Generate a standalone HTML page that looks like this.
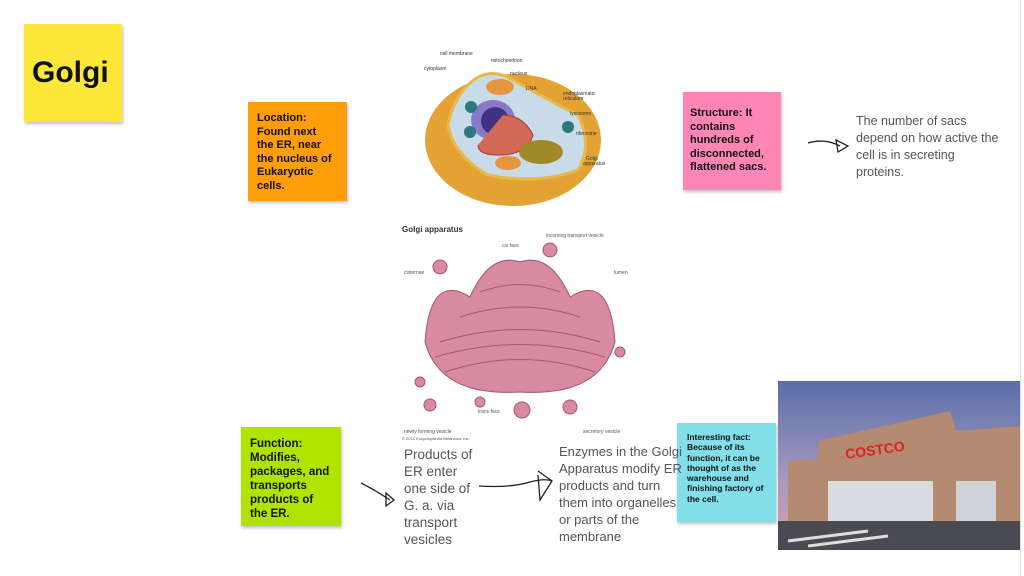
<!DOCTYPE html><html><head><style>
body{margin:0;width:1024px;height:576px;background:#fff;position:relative;overflow:hidden;font-family:"Liberation Sans",sans-serif}
.n{position:absolute;box-shadow:1px 2px 3px rgba(0,0,0,.25);font-weight:bold;color:#111;box-sizing:border-box;white-space:nowrap}
.t{position:absolute;color:#555;font-size:13px;line-height:17px;white-space:nowrap}
svg{position:absolute}
</style></head><body>
<div style="position:absolute;left:1020px;top:0;width:1px;height:576px;background:#ddd"></div>
<div class="n" style="left:24px;top:24px;width:98px;height:98px;background:#fde83a;font-size:30px;padding:32px 0 0 8px">Golgi</div>
<div class="n" style="left:248px;top:102px;width:99px;height:99px;background:#ff9d0a;font-size:11px;line-height:13.5px;padding:10px 4px 0 9px">Location:<br>Found next<br>the ER, near<br>the nucleus of<br>Eukaryotic<br>cells.</div>
<div class="n" style="left:683px;top:92px;width:98px;height:98px;background:#ff85b5;font-size:11px;line-height:13.5px;padding:15px 4px 0 7px">Structure: It<br>contains<br>hundreds of<br>disconnected,<br>flattened sacs.</div>
<div class="n" style="left:241px;top:427px;width:100px;height:99px;background:#b0e400;font-size:11.5px;line-height:14px;padding:10px 4px 0 9px">Function:<br>Modifies,<br>packages, and<br>transports<br>products of<br>the ER.</div>
<div class="n" style="left:677px;top:423px;width:99px;height:99px;background:#82dfea;font-size:8.5px;line-height:10.3px;padding:9px 3px 0 10px">Interesting fact:<br>Because of its<br>function, it can be<br>thought of as the<br>warehouse and<br>finishing factory of<br>the cell.</div>
<div class="t" style="left:856px;top:113px;font-size:12.5px">The number of sacs<br>depend on how active the<br>cell is in secreting<br>proteins.</div>
<div class="t" style="left:404px;top:446px;font-size:13.5px">Products of<br>ER enter<br>one side of<br>G. a. via<br>transport<br>vesicles</div>
<div class="t" style="left:559px;top:443px;font-size:13px">Enzymes in the Golgi<br>Apparatus modify ER<br>products and turn<br>them into organelles<br>or parts of the<br>membrane</div>
<svg width="1024" height="576" style="left:0;top:0" fill="none" stroke="#222" stroke-width="1.3">
<path d="M808 143 Q825 138 840 146 M836 140 L848 146 L838 152 Z"/>
<path d="M361 483 Q375 490 390 500 M386 493 L394 500 L386 506 Z"/>
<path d="M479 486 Q510 488 530 482 Q545 478 552 481 M538 471 L552 481 L540 500 L538 475"/>
</svg>
<svg width="190" height="165" style="left:418px;top:45px" viewBox="0 0 190 165">
<ellipse cx="95" cy="95" rx="88" ry="66" fill="#e3a232"/>
<path d="M50 40 Q70 20 95 35 Q130 55 160 70 Q175 100 160 125 Q120 140 70 130 Q35 110 30 80 Q35 55 50 40Z" fill="#c7dbe8" stroke="#e8b84a" stroke-width="3"/>
<ellipse cx="75" cy="75" rx="22" ry="20" fill="#8a78c8"/><ellipse cx="77" cy="76" rx="14" ry="14" fill="#3e3382"/>
<path d="M85 70 q20 0 30 20 q-5 20 -35 20 q-20 0 -20 -10" fill="#d46a55" stroke="#a33" stroke-width="1"/>
<ellipse cx="123" cy="107" rx="22" ry="12" fill="#a08a28"/>
<ellipse cx="82" cy="42" rx="14" ry="8" fill="#e89540"/><ellipse cx="90" cy="118" rx="13" ry="7" fill="#e89540"/>
<circle cx="53" cy="62" r="6" fill="#2a7a80"/><circle cx="52" cy="87" r="6" fill="#2a7a80"/><circle cx="150" cy="82" r="6" fill="#2a7a80"/>
<g font-size="5" fill="#333" font-family="Liberation Sans"><text x="22" y="10">cell membrane</text><text x="6" y="25">cytoplasm</text><text x="73" y="17">mitochondrion</text><text x="92" y="30">nucleus</text><text x="108" y="45">DNA</text><text x="145" y="50">endoplasmatic</text><text x="145" y="55">reticulum</text><text x="152" y="70">lysosome</text><text x="158" y="90">ribosome</text><text x="168" y="115">Golgi</text><text x="165" y="120">apparatus</text></g>
</svg>
<svg width="240" height="220" style="left:400px;top:222px" viewBox="0 0 240 220">
<text x="2" y="10" font-size="8" font-weight="bold" fill="#333" font-family="Liberation Sans">Golgi apparatus</text>
<g fill="#d88aa0" stroke="#a85570" stroke-width="1">
<path d="M25 120 Q30 50 70 75 Q90 30 120 40 Q150 30 170 75 Q210 50 215 120 Q200 175 120 170 Q40 175 25 120Z"/>
<path d="M40 120 Q120 95 200 120" fill="none"/><path d="M35 135 Q120 110 205 135" fill="none"/><path d="M45 150 Q120 125 195 150" fill="none"/><path d="M80 70 Q120 55 160 70" fill="none"/><path d="M60 95 Q120 75 180 95" fill="none"/>
<circle cx="40" cy="45" r="7"/><circle cx="150" cy="28" r="7"/><circle cx="122" cy="188" r="8"/><circle cx="170" cy="185" r="7"/><circle cx="30" cy="183" r="6"/><circle cx="220" cy="130" r="5"/><circle cx="20" cy="160" r="5"/><circle cx="80" cy="180" r="5"/>
</g>
<g font-size="5" fill="#555" font-family="Liberation Sans"><text x="102" y="25">cis face</text><text x="146" y="15">incoming transport vesicle</text><text x="4" y="52">cisternae</text><text x="214" y="52">lumen</text><text x="4" y="211">newly forming vesicle</text><text x="78" y="191">trans face</text><text x="183" y="211">secretory vesicle</text><text x="2" y="218" font-size="4">© 2010 Encyclopaedia Britannica, Inc.</text></g>
</svg>
<svg width="242" height="169" style="left:778px;top:381px" viewBox="0 0 242 169">
<defs><linearGradient id="s" x1="0" y1="0" x2="0" y2="1"><stop offset="0" stop-color="#5a6ea8"/><stop offset=".6" stop-color="#a79ac0"/><stop offset="1" stop-color="#d8a0a8"/></linearGradient></defs>
<rect width="242" height="169" fill="url(#s)"/>
<path d="M40 60 L172 30 L178 50 L242 45 L242 145 L10 145 L10 80 L40 78Z" fill="#b48a70"/>
<rect x="50" y="100" width="105" height="40" fill="#d8dce0"/><rect x="178" y="100" width="40" height="40" fill="#d0d4d8"/>
<text x="68" y="78" font-size="14" font-weight="bold" fill="#e02020" font-family="Liberation Sans" transform="rotate(-8 68 78)">COSTCO</text>
<rect x="0" y="140" width="242" height="29" fill="#4a4a52"/>
<path d="M10 160 L90 150 M30 165 L110 155" stroke="#ddd" stroke-width="3"/>
</svg>
</body></html>
